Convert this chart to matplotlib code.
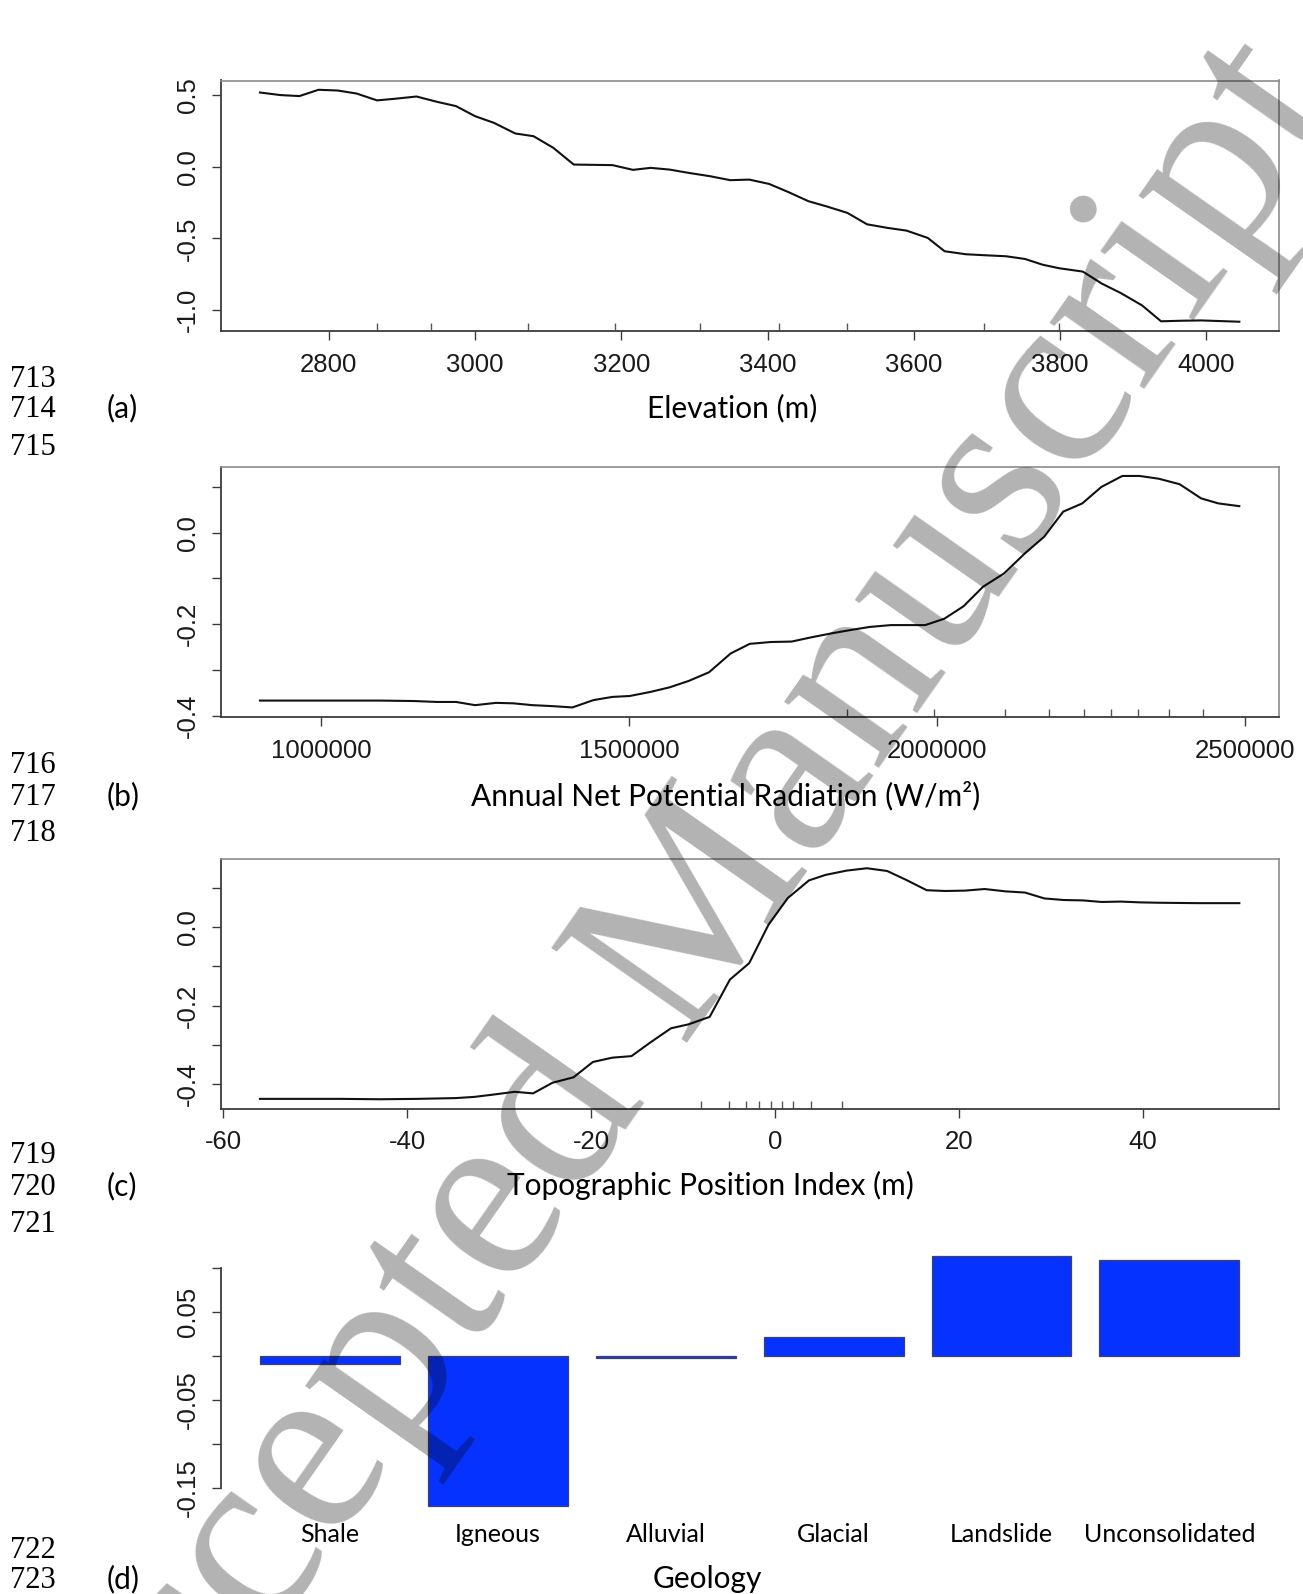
import matplotlib.pyplot as plt

# ---- data ----
elev_x = [2706, 2734, 2760, 2786, 2812, 2838, 2866, 2890, 2920, 2948,
          2974, 3000, 3026, 3055, 3080, 3107, 3135, 3162, 3188, 3216,
          3240, 3266, 3292, 3321, 3349, 3375, 3402, 3428, 3456, 3480,
          3509, 3536, 3564, 3590, 3619, 3642, 3671, 3697, 3726, 3752,
          3776, 3799, 3831, 3857, 3883, 3912, 3938, 3967, 3993, 4045]
elev_y = [0.519, 0.501, 0.494, 0.538, 0.533, 0.512, 0.464, 0.475, 0.491, 0.454,
          0.424, 0.354, 0.307, 0.233, 0.214, 0.133, 0.016, 0.014, 0.012, -0.021,
          -0.007, -0.019, -0.042, -0.065, -0.093, -0.089, -0.119, -0.175, -0.240, -0.275,
          -0.321, -0.401, -0.426, -0.445, -0.496, -0.589, -0.610, -0.617, -0.624, -0.643,
          -0.683, -0.708, -0.731, -0.815, -0.881, -0.967, -1.078, -1.074, -1.072, -1.081]
elev_rug = [2866, 2940, 3072, 3192, 3308, 3416, 3509, 3696, 3799]

rad_x = [900700, 970800, 1032900, 1094900, 1150700, 1188000, 1219000, 1250000, 1284000, 1312000,
         1343000, 1374000, 1408000, 1442000, 1473000, 1501000, 1535000, 1566000, 1597000, 1630000,
         1665000, 1696000, 1730000, 1764000, 1795000, 1829000, 1863000, 1891000, 1925000, 1981000,
         2012000, 2043000, 2075000, 2109000, 2143000, 2174000, 2205000, 2236000, 2267000, 2301000,
         2329000, 2360000, 2394000, 2429000, 2457000, 2491000]
rad_y = [-0.367, -0.367, -0.367, -0.367, -0.368, -0.370, -0.370, -0.377, -0.372, -0.373,
         -0.377, -0.379, -0.382, -0.366, -0.359, -0.357, -0.348, -0.338, -0.324, -0.305,
         -0.264, -0.243, -0.239, -0.238, -0.229, -0.220, -0.212, -0.206, -0.202, -0.202,
         -0.188, -0.161, -0.118, -0.089, -0.045, -0.009, 0.046, 0.064, 0.100, 0.124,
         0.124, 0.118, 0.106, 0.075, 0.064, 0.058]
rad_rug = [1854000, 1995000, 2110000, 2182000, 2239000, 2283000, 2326000, 2376000, 2432000]

tpi_x = [-56.0, -51.4, -47.2, -43.0, -38.9, -34.7, -32.7, -30.6, -28.3, -26.3,
         -24.2, -21.9, -19.8, -17.7, -15.6, -13.6, -11.3, -9.4, -7.1, -4.9,
         -2.8, -0.7, 1.4, 3.7, 5.5, 7.8, 10.0, 12.2, 14.3, 16.5,
         18.5, 20.7, 22.8, 25.1, 27.2, 29.3, 31.4, 33.5, 35.5, 37.6,
         39.7, 41.8, 46.0, 50.5]
tpi_y = [-0.438, -0.438, -0.438, -0.439, -0.438, -0.436, -0.433, -0.427, -0.420, -0.424,
         -0.397, -0.383, -0.344, -0.333, -0.329, -0.295, -0.258, -0.248, -0.229, -0.134,
         -0.092, 0.006, 0.074, 0.119, 0.133, 0.144, 0.150, 0.143, 0.120, 0.094,
         0.092, 0.093, 0.097, 0.091, 0.088, 0.073, 0.069, 0.068, 0.064, 0.065,
         0.063, 0.062, 0.061, 0.061]
tpi_rug = [-8.0, -5.0, -3.1, -1.75, -0.4, 0.75, 2.0, 3.9, 7.3]

geo_names = ['Shale', 'Igneous', 'Alluvial', 'Glacial', 'Landslide', 'Unconsolidated']
geo_vals = [-0.0098, -0.171, -0.0025, 0.021, 0.113, 0.109]

xlabels = ['Elevation (m)', 'Annual Net Potential Radiation (W/m\u00b2)',
           'Topographic Position Index (m)', 'Geology']
panel_tags = ['(a)', '(b)', '(c)', '(d)']
line_nums = ['713', '714', '715', '716', '717', '718', '719', '720', '721', '722', '723']

# ---- layout (pixels of the page) ----
W, H = 1303, 1594
fig = plt.figure(figsize=(W / 100, H / 100), dpi=100)

def place(left, right, top, bottom):
    return fig.add_axes([left / W, 1 - bottom / H, (right - left) / W, (bottom - top) / H])

def rlim(vals):
    # R style 4% extension of the data range
    lo, hi = min(vals), max(vals)
    d = (hi - lo) * 0.04
    return lo - d, hi + d

TICKFONT = dict(family='Liberation Sans', size=18.5, color='#1a1a1a')
LABFONT = 'Lato'

def r_style(ax, xt, xtl, yt, ytl):
    for s in ['top', 'right']:
        ax.spines[s].set_color('#8c8c8c')
        ax.spines[s].set_linewidth(1.2)
    for s in ['left', 'bottom']:
        ax.spines[s].set_color('#3c3c3c')
        ax.spines[s].set_linewidth(1.3)
    ax.set_xticks(xt)
    ax.set_xticklabels(xtl, fontdict=TICKFONT, va='baseline')
    ax.set_yticks(yt)
    ax.set_yticklabels(ytl, fontdict=TICKFONT, rotation=90, va='center')
    ax.tick_params(axis='both', direction='out', length=6.5, width=1.0, color='#3c3c3c')
    ax.tick_params(axis='x', pad=23)
    ax.tick_params(axis='y', pad=8.5)

def rug(ax, vals):
    ax.vlines(vals, 0, 0.03, transform=ax.get_xaxis_transform(), color='#555555', lw=1.0)

ax_a = place(220.8, 1278.5, 80.5, 331)
ax_b = place(220.8, 1278.5, 466.7, 716.7)
ax_c = place(220.8, 1278.5, 859, 1108.5)
ax_d = place(220.8, 1278.5, 1246.2, 1516.2)

# (a) elevation
ax_a.plot(elev_x, elev_y, color='#111111', lw=1.5)
ax_a.set_xlim(rlim(elev_x))
ax_a.set_ylim(rlim(elev_y))
r_style(ax_a, [2800, 3000, 3200, 3400, 3600, 3800, 4000],
        ['2800', '3000', '3200', '3400', '3600', '3800', '4000'],
        [-1.0, -0.5, 0.0, 0.5], ['-1.0', '-0.5', '0.0', '0.5'])
rug(ax_a, elev_rug)

# (b) radiation
ax_b.plot(rad_x, rad_y, color='#111111', lw=1.5)
ax_b.set_xlim(rlim(rad_x))
ax_b.set_ylim(rlim(rad_y))
r_style(ax_b, [1000000, 1500000, 2000000, 2500000],
        ['1000000', '1500000', '2000000', '2500000'],
        [-0.4, -0.3, -0.2, -0.1, 0.0, 0.1], ['-0.4', '', '-0.2', '', '0.0', ''])
rug(ax_b, rad_rug)

# (c) TPI
ax_c.plot(tpi_x, tpi_y, color='#111111', lw=1.5)
ax_c.set_xlim(rlim(tpi_x))
ax_c.set_ylim(rlim(tpi_y))
r_style(ax_c, [-60, -40, -20, 0, 20, 40], ['-60', '-40', '-20', '0', '20', '40'],
        [-0.4, -0.3, -0.2, -0.1, 0.0, 0.1], ['-0.4', '', '-0.2', '', '0.0', ''])
rug(ax_c, tpi_rug)

# (d) geology bars (R barplot: width 1, space 0.2)
pos = [0.7 + 1.2 * i for i in range(len(geo_vals))]
ax_d.bar(pos, geo_vals, width=1.0, color='#0632ff', edgecolor='#40406a', lw=0.9)
ax_d.set_xlim(-0.08, 7.48)
ax_d.set_ylim(rlim(geo_vals + [0]))
for s in ['top', 'right', 'bottom']:
    ax_d.spines[s].set_visible(False)
ax_d.spines['left'].set_color('#3c3c3c')
ax_d.spines['left'].set_linewidth(1.3)
ax_d.spines['left'].set_bounds(-0.15, 0.10)
ax_d.set_yticks([-0.15, -0.10, -0.05, 0.0, 0.05, 0.10])
ax_d.set_yticklabels(['-0.15', '', '-0.05', '', '0.05', ''], fontdict=TICKFONT,
                     rotation=90, va='center')
ax_d.tick_params(axis='y', direction='out', length=6.5, width=1.0, color='#3c3c3c', pad=8.5)
ax_d.set_xticks(pos)
ax_d.set_xticklabels(geo_names, family=LABFONT, size=18, va='baseline')
ax_d.tick_params(axis='x', length=0, pad=18.7)

# ---- page text: axis titles, panel tags, line numbers ----
base = [417, 805, 1195, 1588]
lab_cx = [732, 726, 710, 707]
for t, lab, b, cx in zip(panel_tags, xlabels, base, lab_cx):
    fig.text(107 / W, 1 - b / H, t, family=LABFONT, size=21.5, va='baseline', ha='left')
    fig.text(cx / W, 1 - b / H, lab, family=LABFONT, size=21.5, va='baseline', ha='center')

num_base = [387, 417, 455, 773, 805, 841, 1163, 1195, 1232, 1558, 1588]
for n, b in zip(line_nums, num_base):
    fig.text(10 / W, 1 - b / H, n, family='Liberation Serif', size=22, va='baseline', ha='left')

# ---- watermark ----
fig.text(672 / W, 1 - 959 / H, 'Accepted Manuscript', family='Liberation Serif', size=182,
         rotation=55, rotation_mode='anchor', ha='center', va='center',
         color='black', alpha=0.3, zorder=10)

fig.savefig('out.png', dpi=100)
